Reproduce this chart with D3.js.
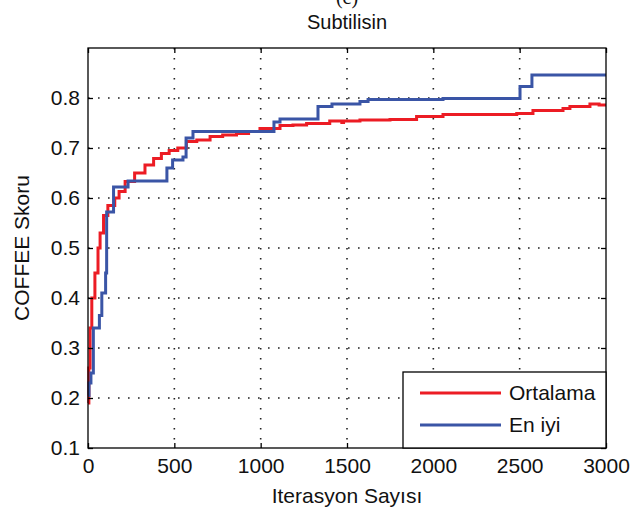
<!DOCTYPE html>
<html>
<head>
<meta charset="utf-8">
<script src="https://cdn.jsdelivr.net/npm/d3@7"></script>
<style>
  body { margin: 0; background: #fff; }
  text { font-family: Arial, "Liberation Sans", sans-serif; fill: #111; }
</style>
</head>
<body>
<div id="chart"></div>
<script>
// iteration values
var ortalamaIter = [0, 5, 12, 22, 40, 58, 70, 90, 115, 155, 180, 215, 270, 330, 380, 425, 470, 520, 570, 630, 707, 780, 860, 930, 996, 1112, 1187, 1266, 1400, 1470, 1480, 1575, 1749, 1903, 2056, 2251, 2483, 2577, 2751, 2791, 2907, 2960, 3000];
var ortalamaVal  = [0.19, 0.26, 0.34, 0.40, 0.45, 0.50, 0.53, 0.565, 0.585, 0.60, 0.613, 0.633, 0.65, 0.666, 0.679, 0.689, 0.695, 0.70, 0.713, 0.716, 0.723, 0.726, 0.729, 0.733, 0.739, 0.745, 0.746, 0.749, 0.754, 0.751, 0.754, 0.756, 0.757, 0.763, 0.767, 0.767, 0.769, 0.775, 0.779, 0.783, 0.788, 0.786, 0.786];

var enIyiIter = [0, 6, 17, 31, 66, 80, 102, 108, 148, 232, 457, 490, 550, 568, 608, 1077, 1112, 1332, 1413, 1575, 1622, 2056, 2502, 2571, 3000];
var enIyiVal  = [0.205, 0.23, 0.25, 0.34, 0.365, 0.41, 0.45, 0.572, 0.622, 0.634, 0.66, 0.676, 0.682, 0.72, 0.733, 0.752, 0.758, 0.783, 0.788, 0.793, 0.797, 0.799, 0.823, 0.846, 0.846];

var xTicks = [0, 500, 1000, 1500, 2000, 2500, 3000];
var yTicks = [0.1, 0.2, 0.3, 0.4, 0.5, 0.6, 0.7, 0.8];
var seriesNames = ["Ortalama", "En iyi"];
var seriesColors = ["#ec1c24", "#3a55a6"];

var width = 632, height = 511;
var margin = {top: 48, right: 26, bottom: 63, left: 88};
var w = width - margin.left - margin.right;
var h = height - margin.top - margin.bottom;
var font = "Arial, 'Liberation Sans', sans-serif";

var svg = d3.select("#chart").append("svg")
    .attr("width", width)
    .attr("height", height);

var x = d3.scaleLinear().domain([0, 3000]).range([0, w]);
var y = d3.scaleLinear().domain([0.1, 0.9]).range([h, 0]);

var g = svg.append("g")
    .attr("transform", "translate(" + margin.left + "," + margin.top + ")");

// dotted grid
g.selectAll(".vgrid")
    .data(xTicks.slice(1, -1))
    .enter().append("line")
    .attr("x1", function(d) { return x(d); })
    .attr("x2", function(d) { return x(d); })
    .attr("y1", 0).attr("y2", h)
    .style("stroke", "#222").style("stroke-width", 1.6)
    .style("stroke-dasharray", "1.6,8.4");
g.selectAll(".hgrid")
    .data(yTicks.slice(1))
    .enter().append("line")
    .attr("y1", function(d) { return y(d); })
    .attr("y2", function(d) { return y(d); })
    .attr("x1", 0).attr("x2", w)
    .style("stroke", "#222").style("stroke-width", 1.6)
    .style("stroke-dasharray", "1.6,8.4");

// data lines
var series = [
    d3.zip(ortalamaIter, ortalamaVal),
    d3.zip(enIyiIter, enIyiVal)
];
var line = d3.line()
    .x(function(d) { return x(d[0]); })
    .y(function(d) { return y(d[1]); })
    .curve(d3.curveStepAfter);

g.selectAll(".series")
    .data(series)
    .enter().append("path")
    .attr("d", line)
    .style("fill", "none")
    .style("stroke", function(d, i) { return seriesColors[i]; })
    .style("stroke-width", 3);

// axes, box style with inward ticks
var xAxis = d3.axisBottom(x).tickValues(xTicks).tickSizeInner(-5).tickSizeOuter(0).tickPadding(10)
    .tickFormat(d3.format("d"));
var yAxis = d3.axisLeft(y).tickValues(yTicks).tickSizeInner(-5).tickSizeOuter(0).tickPadding(8)
    .tickFormat(d3.format(".1f"));

var gx = g.append("g").attr("transform", "translate(0," + h + ")").call(xAxis);
var gy = g.append("g").call(yAxis);
g.append("g").call(d3.axisTop(x).tickValues(xTicks).tickSizeInner(-5).tickSizeOuter(0).tickFormat(""));
g.append("g").attr("transform", "translate(" + w + ",0)")
    .call(d3.axisRight(y).tickValues(yTicks).tickSizeInner(-5).tickSizeOuter(0).tickFormat(""));

g.append("rect")
    .attr("width", w).attr("height", h)
    .style("fill", "none").style("stroke", "#000").style("stroke-width", 1.3);

svg.selectAll(".domain").remove();
svg.selectAll(".tick line").style("stroke", "#000").style("stroke-width", 1.3);
svg.selectAll(".tick text").style("font-size", "21px").style("font-family", font).style("fill", "#111");

// legend
var legend = g.append("g")
    .attr("transform", "translate(" + (w - 203) + "," + (h - 76) + ")");
legend.append("rect")
    .attr("width", 203).attr("height", 76)
    .style("fill", "#fff").style("stroke", "#000").style("stroke-width", 1.3);
var item = legend.selectAll(".item")
    .data(seriesNames)
    .enter().append("g")
    .attr("transform", function(d, i) { return "translate(0," + (21 + i * 32) + ")"; });
item.append("line")
    .attr("x1", 17).attr("x2", 98)
    .style("stroke", function(d, i) { return seriesColors[i]; })
    .style("stroke-width", 3);
item.append("text")
    .attr("x", 106).attr("dy", "0.35em")
    .style("font-size", "21px")
    .text(function(d) { return d; });

// titles
svg.append("text")
    .attr("x", 347).attr("y", 4)
    .attr("text-anchor", "middle")
    .style("font-family", "'Liberation Serif', 'Times New Roman', serif")
    .style("font-size", "20px")
    .text("(c)");
svg.append("text")
    .attr("x", 347).attr("y", 29)
    .attr("text-anchor", "middle")
    .style("font-size", "20px")
    .text("Subtilisin");
svg.append("text")
    .attr("x", 347).attr("y", 503)
    .attr("text-anchor", "middle")
    .style("font-size", "21px")
    .text("Iterasyon Sayısı");
svg.append("text")
    .attr("transform", "translate(29," + (margin.top + h / 2) + ") rotate(-90)")
    .attr("text-anchor", "middle")
    .style("font-size", "21px")
    .text("COFFEE Skoru");
</script>
</body>
</html>
